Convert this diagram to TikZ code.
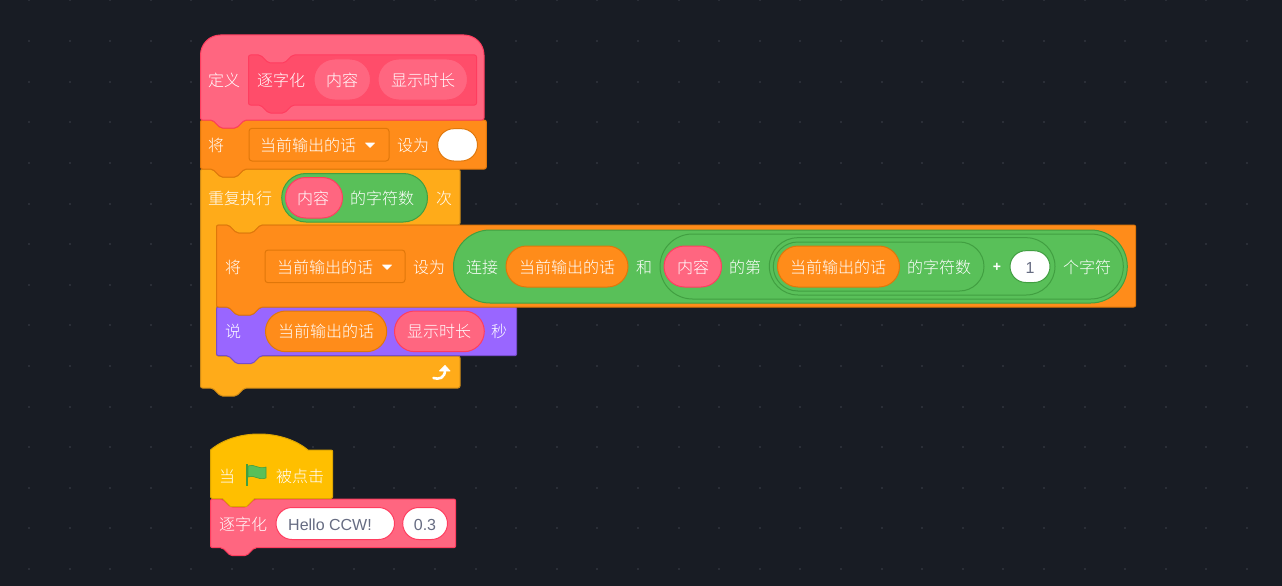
\documentclass[tikz,border=0pt]{standalone}
\usepackage{fontspec}
\setmainfont{Liberation Sans}
\newfontfamily\cjk{Noto Sans CJK SC Light}
\definecolor{bgc}{HTML}{181C24}
\definecolor{dotc}{HTML}{2A2E37}
\definecolor{pink}{HTML}{FF6680}
\definecolor{pinkd}{HTML}{FF3D5F}
\definecolor{pinki}{HTML}{FF4D6A}
\definecolor{pinkid}{HTML}{FF3D5F}
\definecolor{orng}{HTML}{FF8C1A}
\definecolor{orngd}{HTML}{E0770A}
\definecolor{yllw}{HTML}{FFAB19}
\definecolor{yllwd}{HTML}{CF8B17}
\definecolor{grn}{HTML}{59C059}
\definecolor{grnd}{HTML}{419F41}
\definecolor{purp}{HTML}{9966FF}
\definecolor{purpd}{HTML}{774DCB}
\definecolor{evnt}{HTML}{FFBF00}
\definecolor{evntd}{HTML}{DDA600}
\definecolor{inkc}{HTML}{666C82}
\newcounter{lblno}
\tikzset{
  blk/.style={fill=#1,draw=#1d,line width=1pt,line join=round,rounded corners=2pt},
  lbl/.style={anchor=west,inner sep=0pt,text=white,font=\cjk\fontsize{16}{16}\selectfont,text height=15pt,text depth=2pt},
  inp/.style={anchor=center,inner sep=0pt,text=inkc,font=\fontsize{16}{16}\selectfont,text height=12pt,text depth=0pt},
  caret/.style={fill=white,draw=white,line width=.6pt,line join=round}
}
% label: left x, centre y, text
\newcommand\lblat[3]{\stepcounter{lblno}\node[lbl] (t\thelblno) at (#1,#2) {#3};}
% capsule: fill colour, border colour, x1,y1,x2,y2
\newcommand\pillat[6]{\pgfmathsetmacro\pr{(#6-#4)/2-0.01}\draw[fill=#1,draw=#2,line width=1pt,rounded corners=\pr pt] (#3,#4) rectangle (#5,#6);}
% stack block: colour, left, top, right, bottom
\newcommand\stackat[5]{\draw[blk=#1] (#2,#3) -- (#2+12,#3) -- (#2+20,#3+8) -- (#2+36,#3+8) -- (#2+44,#3) -- (#4,#3) -- (#4,#5) -- (#2+44,#5) -- (#2+36,#5+8) -- (#2+20,#5+8) -- (#2+12,#5) -- (#2,#5) -- cycle;}
% dropdown box and its caret
\newcommand\dropat[4]{\draw[fill=orng,draw=orngd,line width=1pt,rounded corners=3pt] (#1,#2) rectangle (#3,#4);}
\newcommand\caretat[2]{\fill[caret] (#1-4.5,#2-2) -- (#1+4.5,#2-2) -- (#1,#2+2.5) -- cycle;}
\begin{document}
\begin{tikzpicture}[x=1pt,y=-1pt]
\useasboundingbox (0,0) rectangle (1282,586);
\fill[bgc] (0,0) rectangle (1282,586);
\foreach \i in {0,...,31}{\foreach \j in {0,...,14}{
  \fill[dotc] ({29+40.6*\i-1},{0.5+40.6*\j-1}) rectangle ++(2,2);}}
% repeat block (C shape)
\draw[blk=yllw] (200.5,169) -- (212.5,169) -- (220.5,177) -- (236.5,177) -- (244.5,169) -- (460,169) -- (460,225)
  -- (260.5,225) -- (252.5,233) -- (236.5,233) -- (228.5,225) -- (216.5,225) -- (216.5,356) -- (460,356) -- (460,388)
  -- (244.5,388) -- (236.5,396) -- (220.5,396) -- (212.5,388) -- (200.5,388) -- cycle;
\pillat{grn}{grnd}{281.7}{173.5}{427.5}{222}
\pillat{pink}{pinkd}{285.5}{177.5}{342.5}{218}
\lblat{208}{198}{重复执行}
\lblat{297}{198}{内容}
\lblat{350}{198}{的字符数}
\lblat{436}{198}{次}
% loop arrow
\draw[white,line width=2.6pt,line cap=round] (433.5,378) .. controls (438,379.5) and (445.5,379) .. (445,369);
\fill[white,draw=white,line width=.8pt,line join=round] (445,365.5) -- (450,371) -- (439.5,371) -- cycle;
% say block
\stackat{purp}{216.5}{307}{516.7}{355.7}
\pillat{orng}{orngd}{265.5}{311}{386.7}{351.7}
\pillat{pink}{pinkd}{394.5}{311}{484.3}{351.7}
\lblat{225}{331}{说}
\lblat{278}{331}{当前输出的话}
\lblat{407}{331}{显示时长}
\lblat{491}{331}{秒}
% inner set block
\stackat{orng}{216.5}{225}{1135.7}{307}
\dropat{265}{250}{405}{282.7}
\caretat{387}{267}
\lblat{225}{267}{将}
\lblat{277}{267}{当前输出的话}
\lblat{413}{267}{设为}
\pillat{grn}{grnd}{453.5}{230}{1127.3}{303}
\pillat{orng}{orngd}{506}{246}{628}{287}
\lblat{466}{267}{连接}
\lblat{519}{267}{当前输出的话}
\lblat{636}{267}{和}
\pillat{grn}{grnd}{660}{234}{1123.3}{299}
\pillat{pink}{pinkd}{664}{246}{721.5}{287}
\lblat{677}{267}{内容}
\lblat{729}{267}{的第}
\pillat{grn}{grnd}{769.3}{237.7}{1055}{295}
\pillat{grn}{grnd}{773.3}{242}{984}{291}
\pillat{orng}{orngd}{777.5}{246}{899.5}{287}
\lblat{790}{267}{当前输出的话}
\lblat{907}{267}{的字符数}
\node[anchor=center,inner sep=0pt,text=white,font=\fontsize{14}{14}\selectfont\bfseries] (plus) at (997,267) {+};
\pillat{white}{grnd}{1010}{250.7}{1050}{282.5}
\node[inp] (one) at (1030,267) {1};
\lblat{1063}{267}{个字符}
% outer set block
\stackat{orng}{200.5}{120}{486.3}{169}
\dropat{249}{128.3}{389}{161}
\caretat{370}{145}
\pillat{white}{orngd}{437.7}{128.7}{477.5}{161}
\lblat{208}{145}{将}
\lblat{260}{145}{当前输出的话}
\lblat{397}{145}{设为}
% define hat
\draw[fill=pink,draw=pinkd,line width=1pt,line join=round,rounded corners=2pt] (212.5,120) -- (220.5,128) -- (236.5,128) -- (244.5,120) -- (484,120)
  [rounded corners=20pt] -- (484,35) -- (200.5,35) [rounded corners=2pt] -- (200.5,120) -- cycle;
\stackat{pinki}{248.5}{55}{476.5}{105}
\pillat{pink}{pinki}{314}{59}{370.5}{100}
\pillat{pink}{pinki}{378}{59}{467.5}{100}
\lblat{208}{80}{定义}
\lblat{257}{80}{逐字化}
\lblat{326}{80}{内容}
\lblat{391}{80}{显示时长}
% green flag script
\stackat{pink}{210.5}{499}{455.7}{547.7}
\draw[fill=evnt,draw=evntd,line width=1pt,line join=round] (222.5,498.5) -- (230.5,506.5) -- (246.5,506.5) -- (254.5,498.5) -- (331,498.5) .. controls (332.2,498.5) and (332.7,498) .. (332.7,497) -- (332.7,452) .. controls (332.7,451) and (332.2,450) .. (331,450) -- (308,450)
  .. controls (296,440) and (278,434) .. (259,434) .. controls (240,434) and (222,440) .. (210.5,450) -- (210.5,497) .. controls (210.5,498) and (211,498.5) .. (212,498.5) -- cycle;
\fill[grnd] (245.7,464) rectangle (248,486);
\fill[grn,draw=grnd,line width=.6pt,line join=round] (248,466) .. controls (254,463) and (258,470) .. (266,467) -- (266,478) .. controls (258,481) and (254,474) .. (248,477) -- cycle;
\lblat{219}{476}{当}
\lblat{276}{476}{被点击}
\pillat{white}{pinkd}{276}{507.5}{394.5}{539.5}
\pillat{white}{pinkd}{402.7}{507.5}{447.5}{539.5}
\lblat{219}{524}{逐字化}
\node[inp,anchor=center] (hello) at (330,524) {Hello CCW!};
\node[inp] (val) at (425,524) {0.3};
\end{tikzpicture}
\end{document}
